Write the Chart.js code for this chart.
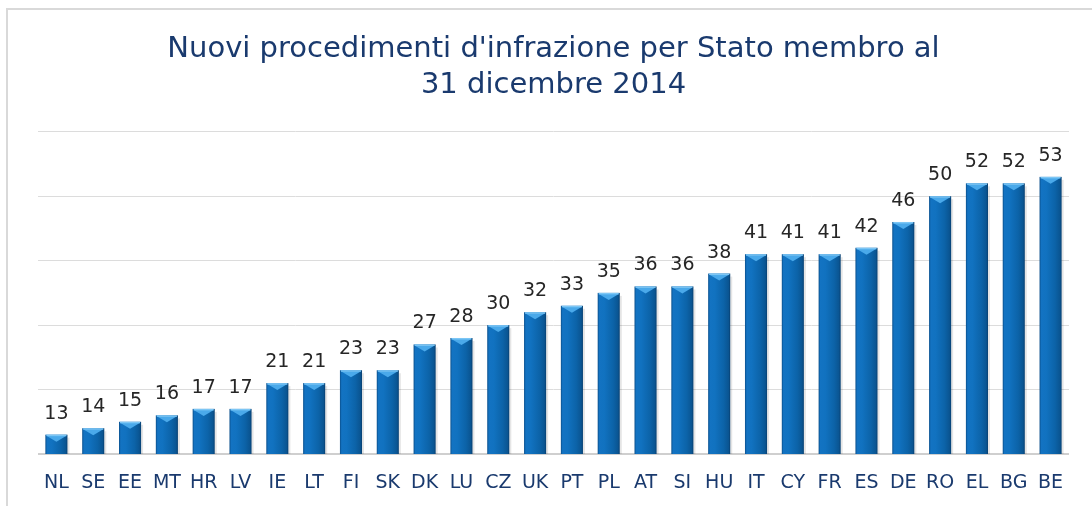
<!DOCTYPE html>
<html><head><meta charset="utf-8">
<script src="https://cdn.jsdelivr.net/npm/chart.js@4.4.1/dist/chart.umd.min.js"></script>
<style>
html,body{margin:0;padding:0;background:#fff;}
#frame{position:absolute;left:6px;top:8px;width:1086px;height:498px;border-left:2px solid #d9d9d9;border-top:2px solid #d9d9d9;}
#wrap{position:absolute;left:0;top:0;width:1092px;height:506px;}
</style></head>
<body>
<div id="frame"></div>
<div id="wrap"><canvas id="c" width="1092" height="506"></canvas></div>
<script>
const categories = ["NL","SE","EE","MT","HR","LV","IE","LT","FI","SK","DK","LU","CZ","UK","PT","PL","AT","SI","HU","IT","CY","FR","ES","DE","RO","EL","BG","BE"];
const values = [13,14,15,16,17,17,21,21,23,23,27,28,30,32,33,35,36,36,38,41,41,41,42,46,50,52,52,53];
const titleLines = ["Nuovi procedimenti d'infrazione per Stato membro al","31 dicembre 2014"];
const yMin = 10, yMax = 60, yStep = 10;

const bevelPlugin = {
  id: 'bevel',
  afterDatasetsDraw(chart) {
    const ctx = chart.ctx;
    const area = chart.chartArea;
    const meta = chart.getDatasetMeta(0);
    meta.data.forEach((bar, i) => {
      const w = bar.width, x0 = bar.x - w/2, x1 = bar.x + w/2, top = bar.y, bot = area.bottom;
      ctx.save();
      ctx.fillStyle = 'rgba(0,0,0,0.10)';
      ctx.fillRect(x1, top + 3, 2, bot - top - 3);
      const g = ctx.createLinearGradient(x0, 0, x1, 0);
      g.addColorStop(0, '#0a4f8c');
      g.addColorStop(0.08, '#1373c2');
      g.addColorStop(0.3, '#1172c0');
      g.addColorStop(0.7, '#0c63a8');
      g.addColorStop(0.92, '#0a5592');
      g.addColorStop(1, '#083f70');
      ctx.fillStyle = g;
      ctx.fillRect(x0, top, w, bot - top);
      const d = Math.min(7, (bot - top) / 2);
      ctx.beginPath();
      ctx.moveTo(x0 + 1, top + 1);
      ctx.lineTo(x1 - 1, top + 1);
      ctx.lineTo(bar.x, top + d);
      ctx.closePath();
      ctx.fillStyle = '#4aa9ea';
      ctx.fill();
      ctx.fillStyle = '#7cc6f5';
      ctx.fillRect(x0 + 1, top, w - 2, 1.5);
      ctx.fillStyle = '#262626';
      ctx.font = '19px "DejaVu Sans", Verdana, sans-serif';
      ctx.textAlign = 'center';
      ctx.textBaseline = 'alphabetic';
      ctx.fillText(String(values[i]), bar.x, top - 16);
      ctx.restore();
    });
  }
};

new Chart(document.getElementById('c'), {
  type: 'bar',
  data: {
    labels: categories,
    datasets: [{ data: values, backgroundColor: 'rgba(0,0,0,0)', borderWidth: 0, barPercentage: 0.6, categoryPercentage: 1.0 }]
  },
  options: {
    responsive: false,
    animation: false,
    devicePixelRatio: 1,
    layout: { padding: { left: 38, right: 23, top: 32, bottom: 0 } },
    plugins: {
      legend: { display: false },
      tooltip: { enabled: false },
      title: {
        display: true,
        text: titleLines,
        color: '#1a3a6e',
        font: { family: '"DejaVu Sans", Verdana, sans-serif', size: 29, weight: 'normal', lineHeight: 1.22 },
        padding: { top: 0, bottom: 29 }
      }
    },
    scales: {
      x: {
        grid: { display: false, drawTicks: false },
        border: { display: false },
        afterFit: (s) => { s.height = 52; },
        ticks: { color: '#1a3a6e', font: { family: '"DejaVu Sans", Verdana, sans-serif', size: 19 }, padding: 18, maxRotation: 0, autoSkip: false }
      },
      y: {
        min: yMin, max: yMax,
        ticks: { display: false, stepSize: yStep },
        grid: { color: (c) => c.tick && c.tick.value === yMin ? '#cfcfcf' : '#dcdcdc', lineWidth: (c) => c.tick && c.tick.value === yMin ? 2 : 1, drawTicks: false },
        border: { display: false }
      }
    }
  },
  plugins: [bevelPlugin]
});
</script>
</body></html>
